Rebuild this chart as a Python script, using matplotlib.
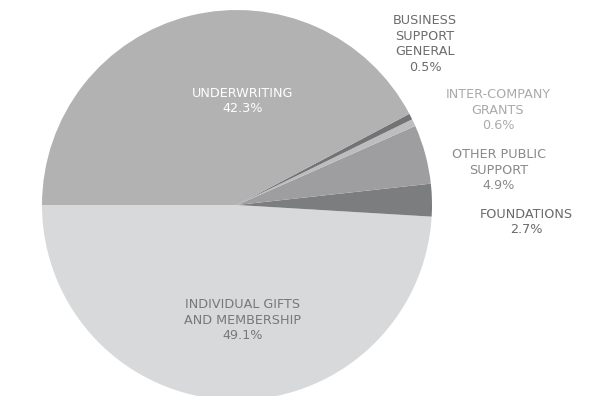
import matplotlib
matplotlib.use("Agg")
import matplotlib.pyplot as plt

# slices, in drawing order (counter-clockwise from 9 o'clock)
labels = ["INDIVIDUAL GIFTS\nAND MEMBERSHIP", "FOUNDATIONS", "OTHER PUBLIC\nSUPPORT",
          "INTER-COMPANY\nGRANTS", "BUSINESS\nSUPPORT\nGENERAL", "UNDERWRITING"]
values = [49.1, 2.7, 4.9, 0.6, 0.5, 42.3]
pct_text = ["49.1%", "2.7%", "4.9%", "0.6%", "0.5%", "42.3%"]

slice_colors = ["#d8d9da", "#7c7d7f", "#9e9ea0", "#bdbdbf", "#737376", "#b2b2b3"]
text_colors = ["#78787a", "#6a6a6c", "#89898b", "#aaaaac", "#6c6c6e", "#ffffff"]
# label centres in pixel coords (x, y from top)
label_pos = [(243, 320), (526, 222), (499, 170), (498, 110), (425, 44), (243, 101)]

W, H = 605, 396
fig = plt.figure(figsize=(W / 100, H / 100), dpi=100)
ax = fig.add_axes([0, 0, 1, 1])

ax.pie(values, colors=slice_colors, startangle=180, counterclock=True,
       center=(237, H - 205), radius=195, frame=True,
       wedgeprops=dict(linewidth=0))
ax.set_xlim(0, W)
ax.set_ylim(0, H)
ax.set_aspect("equal")
ax.axis("off")

for lab, pct, col, (x, y) in zip(labels, pct_text, text_colors, label_pos):
    ax.text(x, H - y, lab + "\n" + pct, ha="center", va="center", color=col,
            fontsize=9.2, family="DejaVu Sans", linespacing=1.25)

fig.savefig("out.png", dpi=100)
